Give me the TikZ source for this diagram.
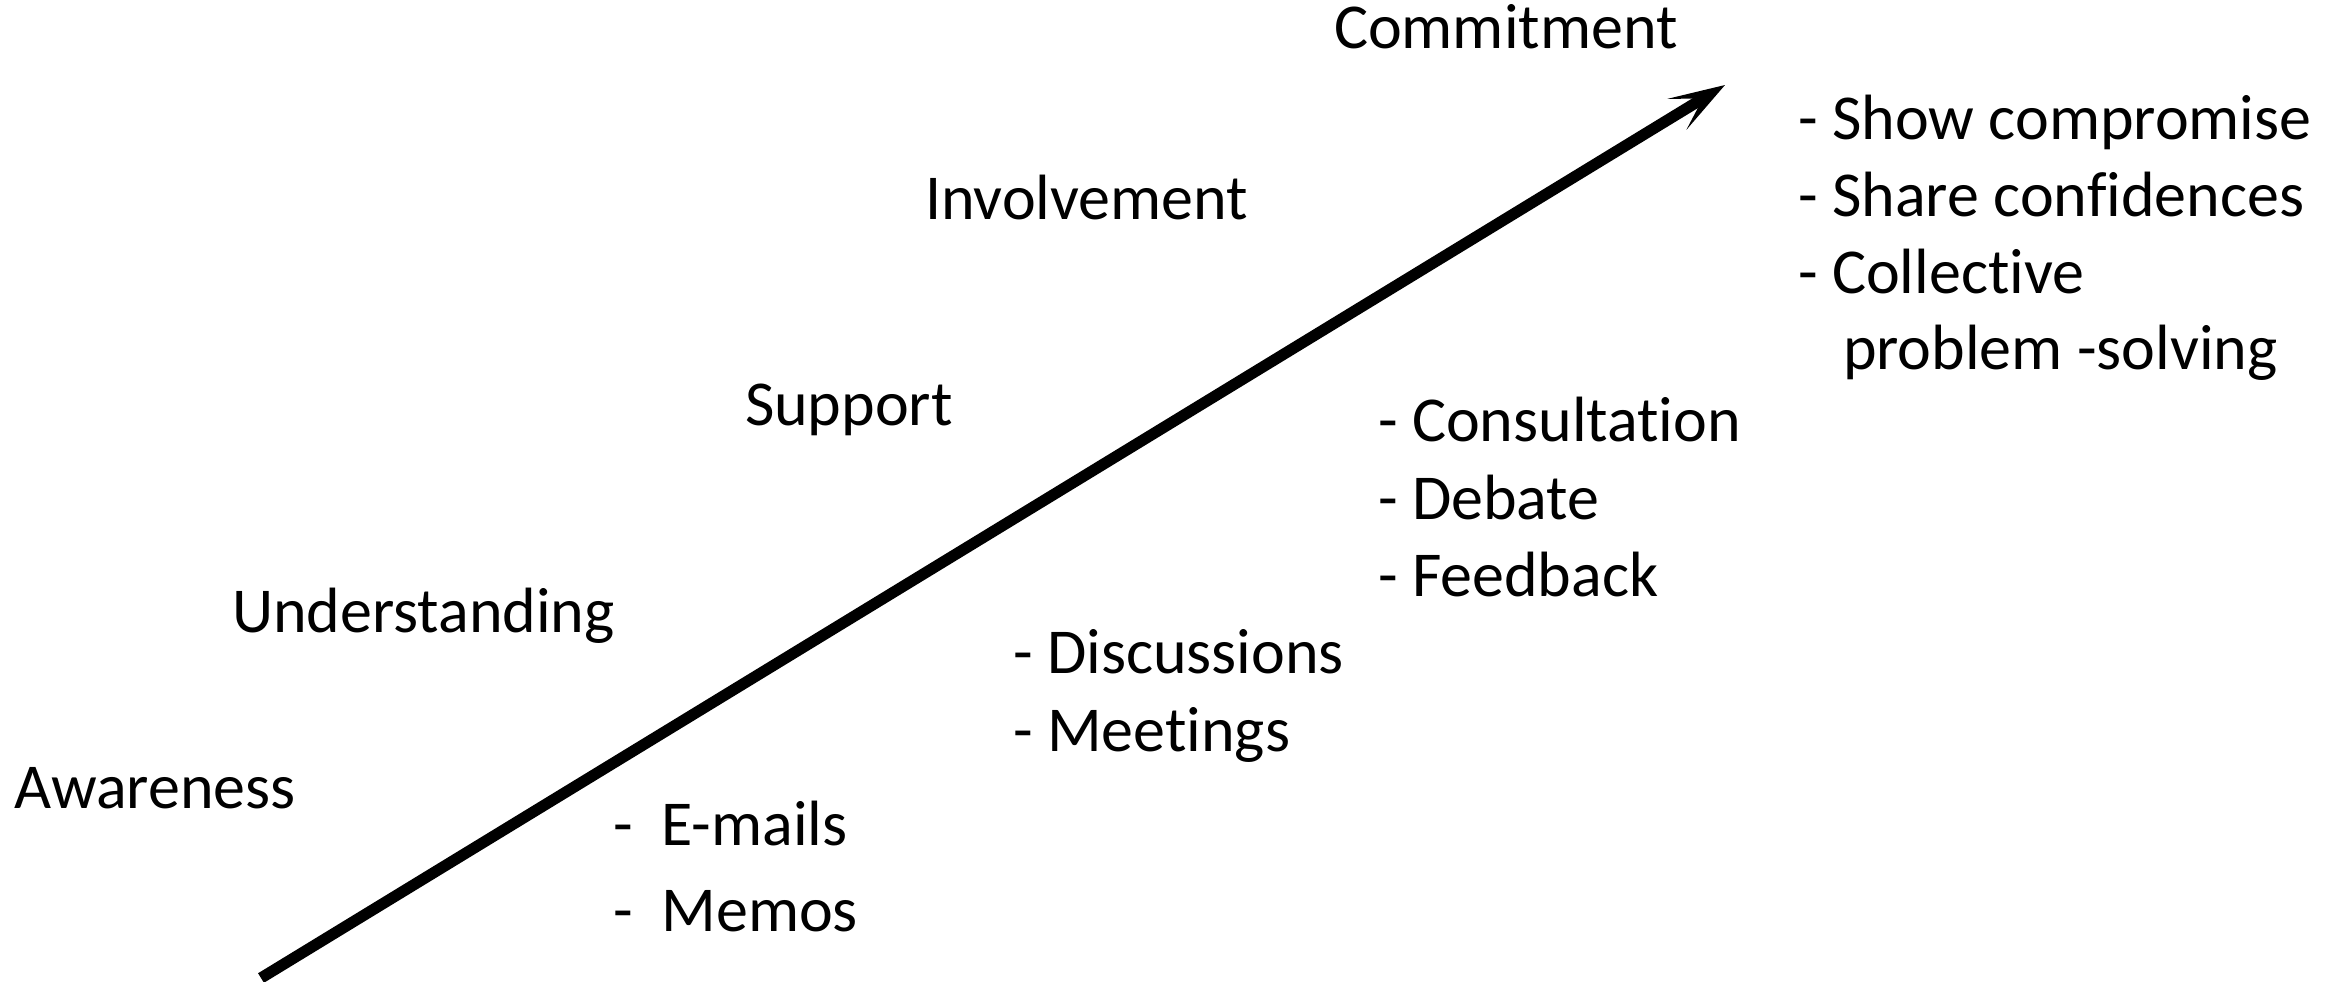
\documentclass[tikz,border=0pt]{standalone}
\usepackage{fontspec}
\setmainfont[Ligatures=NoCommon]{Carlito}
\usetikzlibrary{arrows.meta}
\begin{document}
\begin{tikzpicture}[x=0.5pt,y=-0.5pt,
  lbl/.style={anchor=base west,inner sep=0pt,outer sep=0pt,font=\fontsize{32}{39}\selectfont},
  bigarrow/.style={line width=5.6pt,-{Stealth[length=28pt,width=18pt,inset=15pt]}}]
\useasboundingbox (0,0) rectangle (2339,981);
% stage labels
\node[lbl] (commit) at (1334,48) {Commitment};
\node[lbl] (involve) at (925,219) {Involvement};
\node[lbl] (support) at (745,425) {Support};
\node[lbl] (underst) at (232,632) {Understanding};
\node[lbl] (aware) at (14,808) {Awareness};
% lists
\node[lbl] (email) at (613,845) {-\ \ E-mails};
\node[lbl] (memo) at (613,931) {-\ \ Memos};
\node[lbl] (disc) at (1013,673) {- Discussions};
\node[lbl] (meet) at (1013,751) {- Meetings};
\node[lbl] (cons) at (1378,441) {- Consultation};
\node[lbl] (deb) at (1378,519) {- Debate};
\node[lbl] (feed) at (1378,596) {- Feedback};
\node[lbl] (show) at (1798,139) {- Show compromise};
\node[lbl] (share) at (1798,216) {- Share confidences};
\node[lbl] (coll) at (1798,293) {- Collective};
\node[lbl] (prob) at (1843,369) {problem -solving};
% arrow
\coordinate (s) at (261,978);
\coordinate (e) at (1725,85);
\draw[bigarrow] (s) -- (e);
\end{tikzpicture}
\end{document}
